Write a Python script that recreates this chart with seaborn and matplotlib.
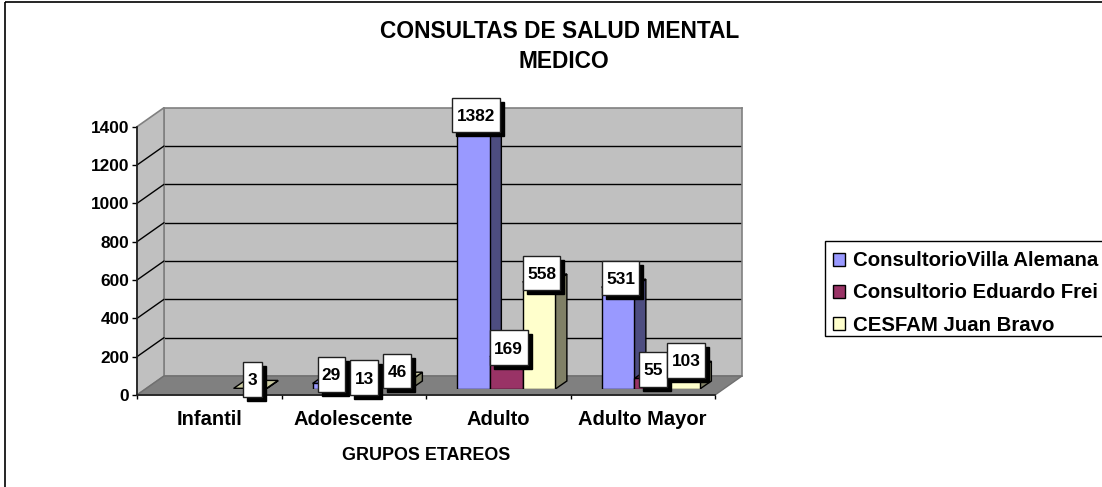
#!/usr/bin/env python3
"""Consultas de salud mental por grupo etareo, bars drawn with a fake 3D depth."""

import matplotlib
matplotlib.use("Agg")
import matplotlib.pyplot as plt
import numpy as np
import pandas as pd
import seaborn as sns
from matplotlib.patches import Polygon, Rectangle
from matplotlib.transforms import Affine2D

GROUPS = ["Infantil", "Adolescente", "Adulto", "Adulto Mayor"]
SERIES = ["ConsultorioVilla Alemana", "Consultorio Eduardo Frei", "CESFAM Juan Bravo"]
VILLA_ALEMANA = [np.nan, 29, 1382, 531]
EDUARDO_FREI = [np.nan, 13, 169, 55]
JUAN_BRAVO = [3, 46, 558, 103]
Y_TICKS = [0, 200, 400, 600, 800, 1000, 1200, 1400]

COLORS = ["#9999FF", "#993366", "#FFFFCC"]
SIDE_COLORS = ["#4D4D80", "#4D1A33", "#808066"]
TOP_COLORS = ["#7A7ACC", "#7A2952", "#CCCCA3"]

W, H = 1102, 487
FONT = "Liberation Sans"

# plot frame, in pixels of the reference
LEFT, RIGHT, Y_BASE, Y_TOP = 137, 715, 395, 126.7
WALL_DX, WALL_DY = 27, 19
BAR_DX, BAR_DY = 8, 6
SIDE_DX, SIDE_DY = 11.5, 8

df = pd.DataFrame(
    {
        "grupo": GROUPS * 3,
        "serie": [s for s in SERIES for _ in GROUPS],
        "valor": VILLA_ALEMANA + EDUARDO_FREI + JUAN_BRAVO,
    }
)

sns.set_theme(style="white")
plt.rcParams["font.family"] = [FONT, "DejaVu Sans"]
plt.rcParams["font.weight"] = "bold"

fig = plt.figure(figsize=(W / 100, H / 100), dpi=100, facecolor="white")
px = Affine2D().scale(1 / W, -1 / H).translate(0, 1) + fig.transFigure


def place(dx=0, dy=0):
    return [
        (LEFT + dx) / W,
        1 - (Y_BASE - dy) / H,
        (RIGHT - LEFT) / W,
        (Y_BASE - Y_TOP) / H,
    ]


def same_scale(ax):
    ax.set_xlim(-0.5, 3.5)
    ax.set_ylim(0, 1400)


# outer border runs off the right and bottom of the picture
fig.add_artist(Rectangle((5, 1.5), W + 10, H + 10, transform=px, fill=False, ec="black", lw=1.2, zorder=-5))

# back wall
ax_back = fig.add_axes(place(WALL_DX, WALL_DY), zorder=1, facecolor="#C0C0C0")
same_scale(ax_back)
ax_back.set_xticks([])
ax_back.set_yticks(Y_TICKS[1:-1])
ax_back.tick_params(left=False, labelleft=False)
ax_back.grid(axis="y", color="black", lw=1)
for s in ax_back.spines.values():
    s.set_color("#808080")
    s.set_linewidth(1.2)

# side wall and floor
fig.add_artist(
    Polygon(
        [(LEFT, Y_BASE), (LEFT + WALL_DX, Y_BASE - WALL_DY), (LEFT + WALL_DX, Y_TOP - WALL_DY), (LEFT, Y_TOP)],
        transform=px, fc="#C0C0C0", ec="#808080", lw=1.2, zorder=2,
    )
)
fig.add_artist(
    Polygon(
        [(LEFT, Y_BASE), (RIGHT, Y_BASE), (RIGHT + WALL_DX, Y_BASE - WALL_DY), (LEFT + WALL_DX, Y_BASE - WALL_DY)],
        transform=px, fc="#808080", ec="#707070", lw=1, zorder=2,
    )
)
px_per_unit = (Y_BASE - Y_TOP) / 1400
for t in Y_TICKS[1:-1]:
    y = Y_BASE - t * px_per_unit
    fig.add_artist(
        plt.Line2D([LEFT, LEFT + WALL_DX], [y, y - WALL_DY], transform=px, color="black", lw=1, zorder=2.5)
    )

# front plane: ticks and labels
ax_front = fig.add_axes(place(), zorder=3)
ax_front.patch.set_visible(False)
same_scale(ax_front)
ax_front.set_yticks(Y_TICKS)
ax_front.set_xticks(np.arange(-0.5, 4), labels=[])
ax_front.set_xticks(np.arange(4), labels=GROUPS, minor=True)
ax_front.tick_params(axis="x", which="major", bottom=True, length=3, width=1, color="black")
ax_front.tick_params(axis="x", which="minor", bottom=False, pad=7, labelsize=14.5)
ax_front.tick_params(axis="y", left=True, length=3.5, width=1, color="black", pad=2, labelsize=12.4)
for s in ["top", "right"]:
    ax_front.spines[s].set_visible(False)
ax_front.spines["left"].set_color("#202020")
ax_front.spines["bottom"].set_color("#202020")
ax_front.set_xlabel("GRUPOS ETAREOS", fontsize=12.9, fontweight="bold", color="black", labelpad=12.5)

# bars
ax = fig.add_axes(place(BAR_DX, BAR_DY), zorder=4)
ax.patch.set_visible(False)
sns.barplot(
    data=df, x="grupo", y="valor", hue="serie", order=GROUPS, hue_order=SERIES,
    palette=COLORS, saturation=1, width=0.68, gap=0, errorbar=None, edgecolor="black", linewidth=1, ax=ax,
)
same_scale(ax)
ax.axis("off")

handles, labels = ax.get_legend_handles_labels()
ax.get_legend().remove()

px_per_cat = (RIGHT - LEFT) / 4
side_x = SIDE_DX / px_per_cat
side_y = SIDE_DY / px_per_unit
bars = []
for i, cont in enumerate(ax.containers):
    for bar in cont:
        if not np.isnan(bar.get_height()):
            bars.append((bar, i))
bars.sort(key=lambda b: b[0].get_x())

for n, (bar, i) in enumerate(bars):
    x0, x1, h = bar.get_x(), bar.get_x() + bar.get_width(), bar.get_height()
    z = 3 + n * 0.1
    bar.set_zorder(z)
    ax.add_patch(
        Polygon([(x1, 0), (x1 + side_x, side_y), (x1 + side_x, h + side_y), (x1, h)],
                fc=SIDE_COLORS[i], ec="black", lw=1, zorder=z - 0.01)
    )
    ax.add_patch(
        Polygon([(x0, h), (x1, h), (x1 + side_x, h + side_y), (x0 + side_x, h + side_y)],
                fc=TOP_COLORS[i], ec="black", lw=1, zorder=z - 0.01)
    )

# value boxes with a hard black shadow
for bar, i in bars:
    h = bar.get_height()
    text = f"{h:.0f}"
    cx, cy = ax.transData.transform((bar.get_x() + bar.get_width() / 2, h))
    cx, cy = cx + 2.5, cy + 9
    bw = len(text) * 9.7 + 8.5
    bh = 34.5
    z = 10 + i
    ax.add_patch(Rectangle((cx - bw / 2 + 4, cy - bh / 2 - 4), bw, bh, transform=None, fc="black", ec="black",
                           lw=1, zorder=z, clip_on=False))
    ax.add_patch(Rectangle((cx - bw / 2, cy - bh / 2), bw, bh, transform=None, fc="white", ec="#202020",
                           lw=1, zorder=z + 0.1, clip_on=False))
    ax.text(cx, cy, text, transform=None, ha="center", va="center_baseline", fontsize=12.4, fontweight="bold",
            color="black", zorder=z + 0.2, clip_on=False)

fig.text(559.5 / W, 1 - 32 / H, "CONSULTAS DE SALUD MENTAL", ha="center", va="center", fontsize=16.4,
         fontweight="bold", color="black")
fig.text(563.5 / W, 1 - 61 / H, "MEDICO", ha="center", va="center", fontsize=16.4, fontweight="bold", color="black")

# legend frame drawn apart, its bottom sits closer to the last row than matplotlib would put it
fig.add_artist(Rectangle((825, 241), W, 95, transform=px, fc="white", ec="black", lw=1, zorder=5))
leg = fig.legend(
    handles, labels, loc="upper left", bbox_to_anchor=(823.2 / W, 1 - 242 / H), bbox_transform=fig.transFigure,
    frameon=False, fontsize=14.7,
    handlelength=0.63, handleheight=0.63, handletextpad=0.36, labelspacing=0.64, borderpad=0.46, borderaxespad=0,
)
leg.set_zorder(6)
for t in leg.get_texts():
    t.set_color("black")
    t.set_fontweight("bold")

for label in ax_front.get_yticklabels() + ax_front.get_xticklabels(minor=True):
    label.set_color("black")
    label.set_fontweight("bold")

fig.savefig("out.png", dpi=100)
plt.close(fig)
